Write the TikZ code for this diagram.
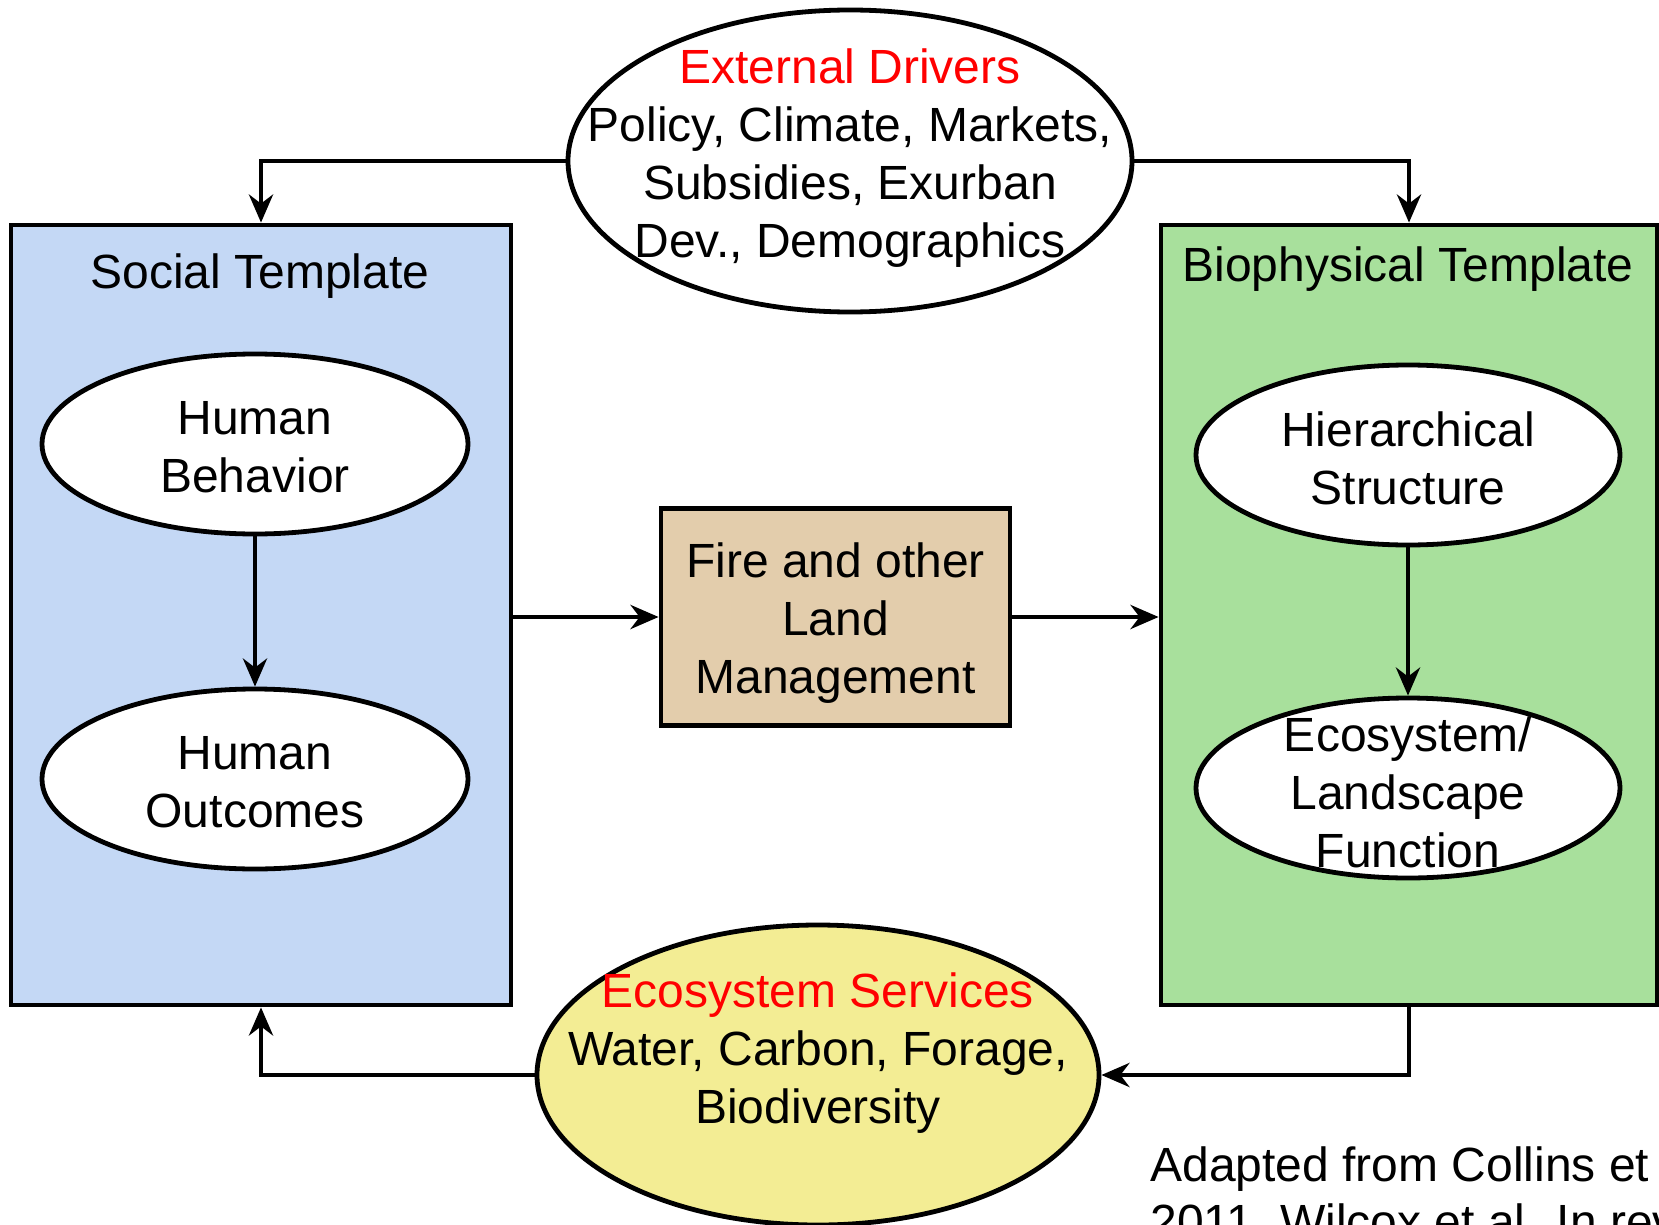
\documentclass[tikz,border=0pt]{standalone}
\usepackage{fontspec}
\setmainfont{Liberation Sans}
\usetikzlibrary{shapes.geometric,arrows.meta}
\definecolor{socialblue}{RGB}{196,216,245}
\definecolor{biogreen}{RGB}{168,224,156}
\definecolor{firetan}{RGB}{227,205,172}
\definecolor{servyellow}{RGB}{243,237,148}
\definecolor{drvred}{RGB}{255,0,0}
\tikzset{
  bigbox/.style={draw=black, line width=2.4pt, rectangle, inner sep=0pt},
  oval/.style={draw=black, line width=2.4pt, ellipse, inner sep=0pt, fill=white},
  txt/.style={font=\fontsize{24}{29}\selectfont, align=center, inner sep=0pt, text=black},
  conn/.style={line width=2.4pt, -{Stealth[length=14pt,width=12pt,inset=4.5pt]}},
}
\begin{document}
\begin{tikzpicture}[x=0.5pt,y=-0.5pt]
\useasboundingbox (0,0) rectangle (1659,1225);
\clip (0,0) rectangle (1659,1225);
\fill[white] (0,0) rectangle (1659,1225);

% containers
\node[bigbox, fill=socialblue, minimum width=250pt, minimum height=390pt] (social) at (261,615) {};
\node[bigbox, fill=biogreen, minimum width=248pt, minimum height=390pt] (bio) at (1409,615) {};
\node[bigbox, fill=firetan, minimum width=174.5pt, minimum height=108.5pt] (fire) at (835.5,617) {};

% ellipses
\node[oval, minimum width=213pt, minimum height=90pt] (hb) at (255,444) {};
\node[oval, minimum width=213pt, minimum height=90pt] (ho) at (255,779) {};
\node[oval, minimum width=212pt, minimum height=90pt] (hs) at (1408,455) {};
\node[oval, minimum width=212pt, minimum height=90pt] (elf) at (1408,788) {};
\node[oval, minimum width=282pt, minimum height=151pt] (ext) at (850,161) {};
\node[oval, fill=servyellow, minimum width=281pt, minimum height=150pt] (serv) at (818,1075) {};

% texts
\node[txt] (socialT) at (260,276) {Social Template};
\node[txt] (bioT) at (1408,269) {Biophysical Template};
\node[txt] (hbT) at (255,447) {Human\\Behavior};
\node[txt] (hoT) at (255,782) {Human\\Outcomes};
\node[txt] (hsT) at (1408,458) {Hierarchical\\Structure};
\node[txt] (elfT) at (1408,792) {Ecosystem/\\Landscape\\Function};
\node[txt] (fireT) at (835.5,623) {Fire and other\\Land\\Management};
\node[txt] (extT) at (850,158) {\textcolor{drvred}{External Drivers}\\Policy, Climate, Markets,\\Subsidies, Exurban\\Dev., Demographics};
\node[txt] (servT) at (818,1053) {\textcolor{drvred}{Ecosystem Services}\\Water, Carbon, Forage,\\Biodiversity};
\node[txt, anchor=base west] (adapt1) at (1150,1181) {Adapted from Collins et al.};
\node[txt, anchor=base west] (adapt2) at (1150,1238) {2011, Wilcox et al. In review};

% connectors
\draw[conn] (hb.south) -- (ho.north);
\draw[conn] (hs.south) -- (elf.north);
\draw[conn] (fire.west -| social.east) -- (fire.west);
\draw[conn] (fire.east) -- (fire.east -| bio.west);
\draw[conn] (ext.west) -| (social.north);
\draw[conn] (ext.east) -| (bio.north);
\draw[conn] (bio.south) |- (serv.east);
\draw[conn] (serv.west) -| (social.south);
\end{tikzpicture}
\end{document}
